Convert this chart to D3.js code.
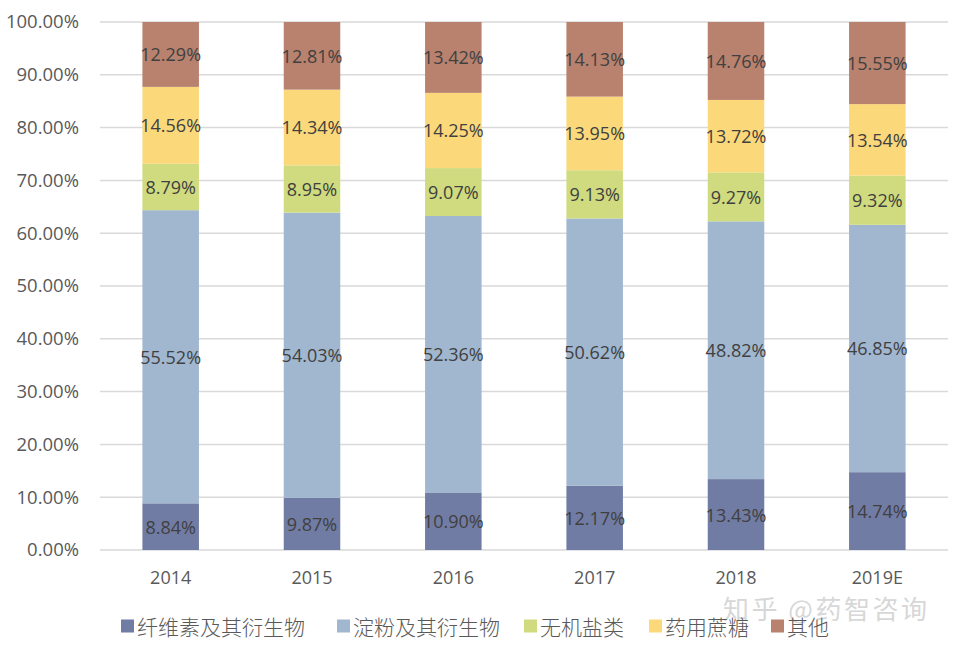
<!DOCTYPE html>
<html><head><meta charset="utf-8">
<script src="https://cdn.jsdelivr.net/npm/d3@7"></script>
<style>body{margin:0;background:#fff}svg{display:block}</style>
</head><body>
<svg id="c" width="953" height="648"></svg>
<script>
const years = ["2014","2015","2016","2017","2018","2019E"];
const seriesNames = ["纤维素及其衍生物","淀粉及其衍生物","无机盐类","药用蔗糖","其他"];
const fiber = [8.84, 9.87, 10.90, 12.17, 13.43, 14.74];
const starch = [55.52, 54.03, 52.36, 50.62, 48.82, 46.85];
const inorganic = [8.79, 8.95, 9.07, 9.13, 9.27, 9.32];
const sucrose = [14.56, 14.34, 14.25, 13.95, 13.72, 13.54];
const other = [12.29, 12.81, 13.42, 14.13, 14.76, 15.55];
const yTicks = [0,10,20,30,40,50,60,70,80,90,100];
const colors = ["#717CA4","#A0B7CF","#CFDB7E","#FBD97B","#B8826F"];

const svg = d3.select("#c");
const x = d3.scaleBand().domain(years).range([100, 948]).paddingInner(0.6).paddingOuter(0.3);
const y = d3.scaleLinear().domain([0,100]).range([550, 22]);
const font = "'Open Sans','Noto Sans CJK SC',sans-serif";

// grid
svg.append("g").selectAll("line").data(yTicks).join("line")
  .attr("x1",100).attr("x2",948).attr("y1",d=>y(d)).attr("y2",d=>y(d))
  .attr("stroke","#d9d9d9").attr("stroke-width",1.5);

// y axis labels
const yAxis = d3.axisLeft(y).tickValues(yTicks).tickSize(0).tickPadding(0).tickFormat(d=>d.toFixed(2)+"%");
const ga = svg.append("g").attr("transform","translate(79,0)").call(yAxis);
ga.select(".domain").remove();
ga.selectAll("text").attr("font-family",font).attr("font-size",18.5).attr("fill","#595959");

// stack
const rows = years.map((yr,i)=>({year:yr, s0:fiber[i], s1:starch[i], s2:inorganic[i], s3:sucrose[i], s4:other[i]}));
const keys = ["s0","s1","s2","s3","s4"];
const stacked = d3.stack().keys(keys)(rows);

const layers = svg.append("g").selectAll("g").data(stacked).join("g").attr("fill",(d,i)=>colors[i]);
layers.selectAll("rect").data(d=>d).join("rect")
  .attr("x",d=>x(d.data.year)).attr("width",x.bandwidth())
  .attr("y",d=>y(d[1])).attr("height",d=>y(d[0])-y(d[1]));

const lab = svg.append("g");
stacked.forEach(layer=>{
  layer.forEach(d=>{
    lab.append("text").attr("x",x(d.data.year)+x.bandwidth()/2).attr("y",(y(d[0])+y(d[1]))/2)
      .attr("text-anchor","middle").attr("dominant-baseline","central")
      .attr("font-family",font).attr("font-size",18).attr("fill","#404040")
      .text((d[1]-d[0]).toFixed(2)+"%");
  });
});

// x labels
const xAxis = d3.axisBottom(x).tickSize(0).tickPadding(0);
const gx = svg.append("g").attr("transform","translate(0,578)").call(xAxis);
gx.select(".domain").remove();
gx.selectAll("text").attr("font-family",font).attr("font-size",18).attr("fill","#595959").attr("dy","0.35em");

// watermark
svg.append("text").attr("x",723).attr("y",607).attr("dominant-baseline","central").attr("font-family","'Noto Sans CJK SC',sans-serif")
  .attr("font-size",26).attr("letter-spacing",2.5).attr("fill","#cccccc").attr("fill-opacity",0.8).text("知乎 @药智咨询");

// legend
const legX = [121, 337, 524, 649, 771];
const lg = svg.append("g").selectAll("g").data(seriesNames).join("g")
  .attr("transform",(d,i)=>`translate(${legX[i]},626)`);
lg.append("rect").attr("x",0).attr("y",-6.5).attr("width",13).attr("height",13).attr("fill",(d,i)=>colors[i]);
lg.append("text").attr("x",16).attr("y",0).attr("dominant-baseline","central")
  .attr("font-family","'Noto Sans CJK SC',sans-serif").attr("font-weight",300).attr("font-size",21).attr("fill","#595959").text(d=>d);
</script>
</body></html>
